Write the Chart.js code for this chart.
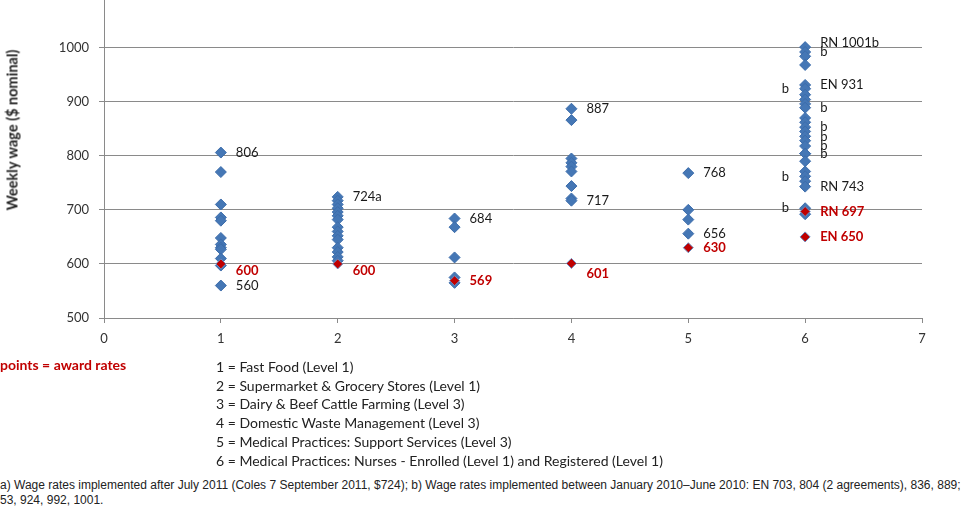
<!DOCTYPE html>
<html>
<head>
<meta charset="utf-8">
<script src="https://cdn.jsdelivr.net/npm/chart.js@4"></script>
<style>
  body { margin: 0; width: 964px; height: 528px; overflow: hidden; background: #fff; position: relative; font-family: Lato, sans-serif; }
  #chart { position: absolute; left: 0; top: -21px; }
  .ytitle { position: absolute; left: 12px; top: 130px; transform: translate(-50%, -50%) rotate(-90deg); font-weight: bold; font-size: 14.5px; white-space: nowrap; color: #222; }
  .award { position: absolute; left: 0; top: 356px; color: #c00000; font-weight: bold; font-size: 14px; }
  .key { position: absolute; left: 216px; top: 358px; font-size: 14px; line-height: 18.7px; color: #222; }
  .note { position: absolute; left: 0; top: 478px; font-family: 'Liberation Sans', Arial, sans-serif; font-size: 12px; line-height: 15px; white-space: nowrap; color: #222; }
</style>
</head>
<body>
<canvas id="chart" width="964" height="383"></canvas>
<div class="ytitle">Weekly wage ($ nominal)</div>
<div class="award">points = award rates</div>
<div class="key" id="key"></div>
<div class="note">a) Wage rates implemented after July 2011 (Coles 7 September 2011, $724); b) Wage rates implemented between January 2010–June 2010: EN 703, 804 (2 agreements), 836, 889;<br>53, 924, 992, 1001.</div>
<script>
const industries = [
    'Fast Food (Level 1)',
    'Supermarket & Grocery Stores (Level 1)',
    'Dairy & Beef Cattle Farming (Level 3)',
    'Domestic Waste Management (Level 3)',
    'Medical Practices: Support Services (Level 3)',
    'Medical Practices: Nurses - Enrolled (Level 1) and Registered (Level 1)',
];

// agreement rates, one list per industry (x = 1..6)
const agreementRates = [
    [806, 770, 710, 686, 680, 648, 636, 630, 627, 610, 597, 560],
    [724, 717, 710, 703, 696, 689, 682, 668, 660, 652, 645, 630, 622, 613, 606],
    [684, 668, 612, 575, 565],
    [887, 866, 795, 787, 780, 771, 744, 721, 717],
    [768, 700, 682, 656],
    [1001, 992, 984, 968, 931, 924, 913, 904, 896, 889, 870, 862, 853, 845, 836, 828, 818, 804, 804, 790, 771, 762, 753, 743, 703, 692],
];

const awardRates = [[600], [600], [569], [601], [630], [697, 650]];

const yTicks = [500, 600, 700, 800, 900, 1000];
const xTicks = [0, 1, 2, 3, 4, 5, 6, 7];

const pointLabels = [
    [1, 806, '806'], [1, 560, '560'], [2, 724, '724a'], [3, 684, '684'],
    [4, 887, '887'], [4, 717, '717'], [5, 768, '768'], [5, 656, '656'],
    [6, 1001, 'RN 1001b'], [6, 992, 'b'], [6, 931, 'EN 931'], [6, 889, 'b'],
    [6, 853, 'b'], [6, 836, 'b'], [6, 818, 'b'], [6, 804, 'b'], [6, 743, 'RN 743'],
];
const leftLabels = [[6, 924, 'b'], [6, 762, 'b'], [6, 703, 'b']];
const awardLabels = [
    [1, 600, '600'], [2, 600, '600'], [3, 569, '569'], [4, 601, '601'],
    [5, 630, '630'], [6, 697, 'RN 697'], [6, 650, 'EN 650'],
];

// small vertical nudges (px) for a few labels
const nudge = { 'RN 1001b': -4, '600': 7, '601': 10 };

document.getElementById('key').innerHTML =
    industries.map((name, i) => (i + 1) + ' = ' + name.replace(/&/g, '&amp;')).join('<br>');

const toPoints = (lists) => lists.flatMap((vals, i) => vals.map(v => ({ x: i + 1, y: v })));

const labelPlugin = {
    id: 'pointText',
    afterDatasetsDraw(chart) {
        const ctx = chart.ctx;
        const sx = chart.scales.x, sy = chart.scales.y;
        ctx.save();
        ctx.textBaseline = 'middle';
        const draw = (list, font, color, align, dx) => {
            ctx.font = font;
            ctx.fillStyle = color;
            ctx.textAlign = align;
            list.forEach(([x, v, t]) => {
                ctx.fillText(t, sx.getPixelForValue(x) + dx, sy.getPixelForValue(v) + (nudge[t] || 0));
            });
        };
        draw(pointLabels, '13px Lato', '#1a1a1a', 'left', 15);
        draw(leftLabels, '13px Lato', '#1a1a1a', 'right', -16);
        draw(awardLabels, 'bold 13px Lato', '#c00000', 'left', 15);
        ctx.restore();
    }
};

const gridGrey = '#8a8a8a';

new Chart(document.getElementById('chart'), {
    type: 'scatter',
    data: {
        datasets: [
            {
                label: 'Award rates',
                data: toPoints(awardRates),
                pointStyle: 'rectRot',
                pointRadius: 5,
                backgroundColor: '#c00000',
                borderColor: '#6b8cc0',
                borderWidth: 1,
            },
            {
                label: 'Agreement rates',
                data: toPoints(agreementRates),
                pointStyle: 'rectRot',
                pointRadius: 5.5,
                backgroundColor: '#4577b5',
                borderColor: '#3d6dab',
                borderWidth: 1,
            },
        ]
    },
    options: {
        responsive: false,
        animation: false,
        layout: { padding: { top: 20, right: 42, left: 0, bottom: 0 } },
        plugins: { legend: { display: false }, tooltip: { enabled: false } },
        scales: {
            x: {
                type: 'linear',
                min: 0,
                max: 7,
                afterBuildTicks: (axis) => { axis.ticks = xTicks.map(v => ({ value: v })); },
                afterFit: (axis) => { axis.height = 44; },
                grid: { drawOnChartArea: false, drawTicks: true, tickLength: 5, color: gridGrey },
                border: { color: gridGrey },
                ticks: { padding: 8, color: '#333', font: { family: 'Lato', size: 13 } },
            },
            y: {
                min: 500,
                max: 1090,
                afterBuildTicks: (axis) => { axis.ticks = yTicks.map(v => ({ value: v })); },
                afterFit: (axis) => { axis.width = 104; },
                grid: { color: gridGrey, tickLength: 5 },
                border: { color: gridGrey },
                ticks: {
                    padding: 10, color: '#333', font: { family: 'Lato', size: 13 },
                    callback: (v) => String(v),
                },
            }
        }
    },
    plugins: [labelPlugin]
});
</script>
</body>
</html>
